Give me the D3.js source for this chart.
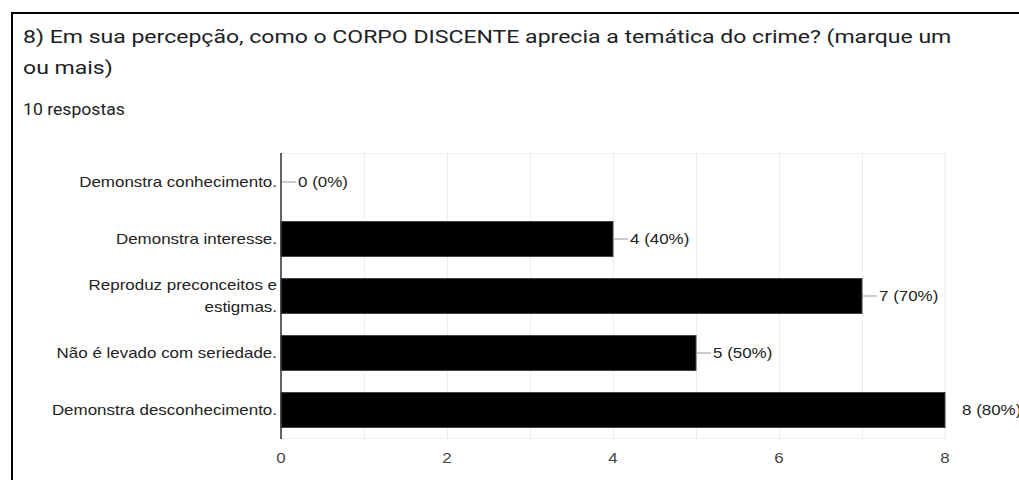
<!DOCTYPE html>
<meta charset="utf-8">
<style>
  body { margin: 0; background: #fff; }
  svg { display: block; }
  text { font-family: Roboto, "Liberation Sans", Arial, sans-serif; }
  .chart text { font-family: "Liberation Sans", Arial, sans-serif; }
</style>
<svg width="1019" height="480"></svg>
<script src="https://cdnjs.cloudflare.com/ajax/libs/d3/7.8.5/d3.min.js"></script>
<script>
// data
var titleLines = ["8) Em sua percepção, como o CORPO DISCENTE aprecia a temática do crime? (marque um",
                  "ou mais)"];
var totalResponses = 10;
var categories = ["Demonstra conhecimento.", "Demonstra interesse.", "Reproduz preconceitos e estigmas.",
                  "Não é levado com seriedade.", "Demonstra desconhecimento."];
var counts = [0, 4, 7, 5, 8];
var xTicks = [0, 2, 4, 6, 8];

// screenshot was stretched a bit wider than tall
var SX = 1.13;

var svg = d3.select("svg");

// card border (only left and top visible)
svg.append("path")
    .attr("d", "M12,481V13H1019")
    .attr("fill", "none")
    .attr("stroke", "#000")
    .attr("stroke-width", 2);

function stretched(sel, x, y, sx) {
  return sel.attr("transform", "translate(" + x + "," + y + ") scale(" + (sx || SX) + ",1)");
}

titleLines.forEach(function(t, i) {
  stretched(svg.append("text"), 23, 43 + i * 31, 1.2)
      .attr("font-size", 19.2)
      .attr("fill", "#202124")
      .text(t);
});

stretched(svg.append("text"), 23, 114.5)
    .attr("font-size", 15.6)
    .attr("fill", "#202124")
    .text(totalResponses + " respostas");

var g = svg.append("g").attr("class", "chart");

var x = d3.scaleLinear().domain([0, 8]).range([281, 945]);
var y = d3.scaleBand().domain(categories).range([153.5, 438.5])
    .paddingInner(0.386).paddingOuter(0.193);

// chart area frame + gridlines
g.append("rect")
    .attr("x", x(0)).attr("y", 153.5)
    .attr("width", x(8) - x(0)).attr("height", 285)
    .attr("fill", "none").attr("stroke", "#f0f0f0");

g.selectAll(".grid")
  .data(d3.range(0, 9))
  .enter().append("line")
    .attr("class", "grid")
    .attr("x1", function(d) { return x(d) + 0.5; })
    .attr("x2", function(d) { return x(d) + 0.5; })
    .attr("y1", 153.5).attr("y2", 438.5)
    .attr("stroke", "#ececec");

// bars
g.selectAll(".bar")
  .data(counts)
  .enter().append("rect")
    .attr("class", "bar")
    .attr("x", x(0))
    .attr("y", function(d, i) { return y(categories[i]); })
    .attr("width", function(d) { return x(d) - x(0); })
    .attr("height", y.bandwidth())
    .attr("fill", "#000")
    .attr("stroke", function(d) { return d > 0 ? "#444" : "none"; });

// baseline
g.append("line")
    .attr("x1", x(0)).attr("x2", x(0))
    .attr("y1", 153).attr("y2", 439)
    .attr("stroke", "#333").attr("stroke-width", 1.5);

// value labels with leader lines
counts.forEach(function(d, i) {
  var cy = y(categories[i]) + y.bandwidth() / 2;
  if (x(d) + 15 < x.range()[1]) {
    g.append("line")
        .attr("x1", x(d) + 1).attr("x2", x(d) + 15)
        .attr("y1", cy).attr("y2", cy)
        .attr("stroke", "#999");
  }
  stretched(g.append("text"), x(d) + 17, cy)
      .attr("dy", "0.35em")
      .attr("font-size", 15)
      .attr("fill", "#222")
      .text(d + " (" + Math.round(d / totalResponses * 100) + "%)");
});

// category labels, wrapped
categories.forEach(function(c, i) {
  var cy = y(c) + y.bandwidth() / 2;
  var words = c.split(" "), lines = [], line = [];
  var probe = g.append("text").attr("font-size", 15);
  words.forEach(function(w) {
    line.push(w);
    probe.text(line.join(" "));
    if (probe.node().getComputedTextLength() * SX > 230 && line.length > 1) {
      line.pop();
      lines.push(line.join(" "));
      line = [w];
    }
  });
  lines.push(line.join(" "));
  probe.remove();
  var lh = 22;
  lines.forEach(function(l, j) {
    stretched(g.append("text"), 277, cy + (j - (lines.length - 1) / 2) * lh)
        .attr("dy", "0.35em")
        .attr("text-anchor", "end")
        .attr("font-size", 15)
        .attr("fill", "#222")
        .text(l);
  });
});

// x tick labels
xTicks.forEach(function(t) {
  stretched(g.append("text"), x(t), 463)
      .attr("text-anchor", "middle")
      .attr("font-size", 15)
      .attr("fill", "#444")
      .text(t);
});
</script>
